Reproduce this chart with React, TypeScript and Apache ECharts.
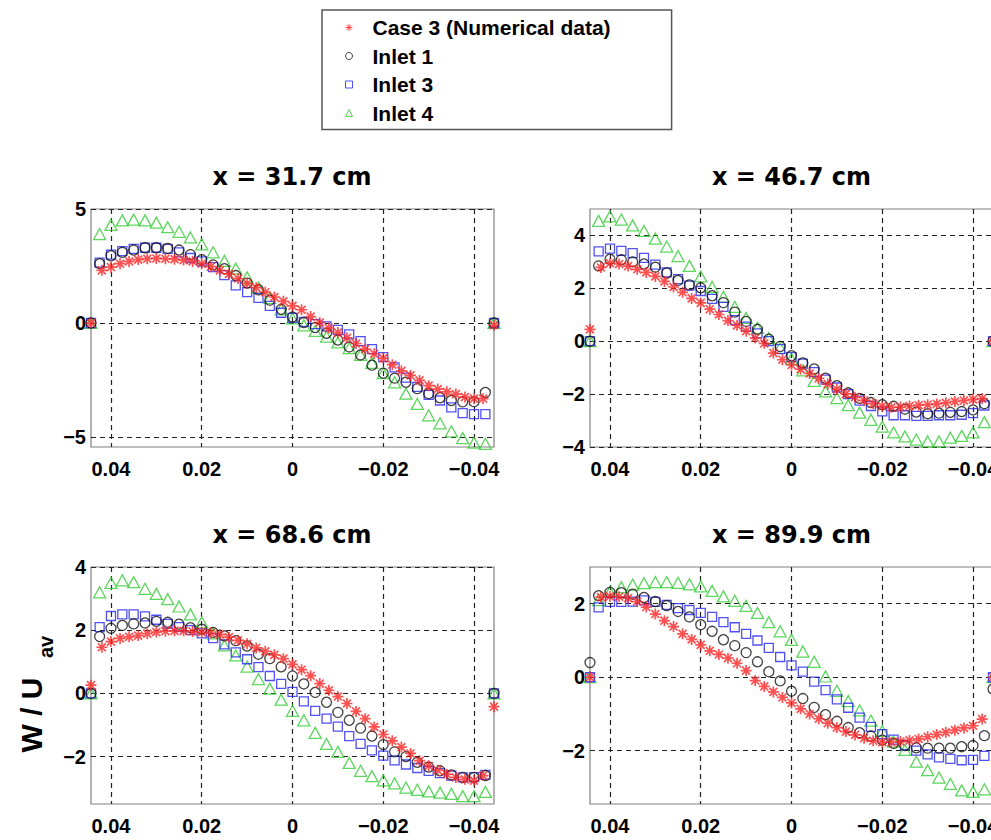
import React, { useEffect, useRef } from "react";
import * as echarts from "echarts";

// ---------- data ----------
const seriesNames = ["Case 3 (Numerical data)", "Inlet 1", "Inlet 3", "Inlet 4"];
const plotTitles = ["x = 31.7 cm", "x = 46.7 cm", "x = 68.6 cm", "x = 89.9 cm"];

// x positions (spanwise coordinate), boundary points included at both walls
const xExp = [0.0444, 0.0425, 0.04, 0.0375, 0.035, 0.0325, 0.03, 0.0275, 0.025, 0.0225, 0.02, 0.0175, 0.015, 0.0125, 0.01, 0.0075, 0.005, 0.0025, 0, -0.0025, -0.005, -0.0075, -0.01, -0.0125, -0.015, -0.0175, -0.02, -0.0225, -0.025, -0.0275, -0.03, -0.0325, -0.035, -0.0375, -0.04, -0.0425, -0.0444];
const xNum = [0.0444, 0.042, 0.04, 0.038, 0.036, 0.034, 0.032, 0.03, 0.028, 0.026, 0.024, 0.022, 0.02, 0.018, 0.016, 0.014, 0.012, 0.01, 0.008, 0.006, 0.004, 0.002, 0, -0.002, -0.004, -0.006, -0.008, -0.01, -0.012, -0.014, -0.016, -0.018, -0.02, -0.022, -0.024, -0.026, -0.028, -0.03, -0.032, -0.034, -0.036, -0.038, -0.04, -0.042, -0.0444];

// x = 31.7 cm
const p1Case3 = [0, 2.31, 2.45, 2.6, 2.7, 2.78, 2.82, 2.83, 2.82, 2.8, 2.76, 2.7, 2.6, 2.47, 2.31, 2.15, 1.95, 1.73, 1.55, 1.35, 1.14, 0.95, 0.75, 0.58, 0.28, 0.02, -0.22, -0.42, -0.65, -0.9, -1.15, -1.35, -1.55, -1.83, -2.1, -2.3, -2.52, -2.75, -2.9, -3.02, -3.12, -3.25, -3.32, -3.32, -0.1];
const p1Inlet1 = [0, 2.6, 2.95, 3.1, 3.2, 3.3, 3.3, 3.27, 3.2, 3.0, 2.78, 2.55, 2.38, 2.08, 1.75, 1.45, 1.0, 0.6, 0.26, 0.02, -0.2, -0.45, -0.75, -1.05, -1.4, -1.85, -2.2, -2.42, -2.6, -2.88, -3.1, -3.28, -3.4, -3.46, -3.45, -3.05, 0];
const p1Inlet3 = [0, 2.65, 3.0, 3.15, 3.25, 3.3, 3.3, 3.25, 3.1, 2.85, 2.7, 2.45, 2.1, 1.65, 1.35, 1.1, 0.75, 0.45, 0.22, 0.05, -0.05, -0.15, -0.3, -0.5, -0.8, -1.15, -1.5, -1.95, -2.4, -2.8, -3.15, -3.4, -3.7, -3.95, -4.0, -4.0, 0];
const p1Inlet4 = [0, 3.9, 4.3, 4.5, 4.53, 4.5, 4.4, 4.2, 4.0, 3.75, 3.45, 3.1, 2.72, 2.38, 2.0, 1.55, 1.1, 0.6, 0.2, -0.1, -0.35, -0.6, -0.85, -1.1, -1.4, -1.75, -2.2, -2.6, -3.1, -3.55, -4.05, -4.4, -4.75, -5.05, -5.25, -5.3, 0];

// x = 46.7 cm
const p2Case3 = [0.45, 2.79, 2.95, 2.92, 2.84, 2.72, 2.6, 2.45, 2.26, 2.05, 1.85, 1.62, 1.45, 1.21, 1.01, 0.78, 0.6, 0.38, 0.12, -0.08, -0.45, -0.7, -0.9, -1.06, -1.22, -1.4, -1.62, -1.82, -1.99, -2.12, -2.24, -2.36, -2.46, -2.5, -2.49, -2.45, -2.42, -2.4, -2.37, -2.33, -2.28, -2.24, -2.2, -2.17, 0];
const p2Inlet1 = [0, 2.85, 3.1, 3.08, 3.0, 2.92, 2.8, 2.58, 2.3, 2.13, 2.02, 1.72, 1.46, 1.1, 0.75, 0.45, 0.08, -0.2, -0.55, -0.82, -1.05, -1.4, -1.68, -1.95, -2.16, -2.32, -2.4, -2.46, -2.57, -2.68, -2.74, -2.72, -2.69, -2.66, -2.6, -2.36, 0];
const p2Inlet3 = [0, 3.4, 3.5, 3.42, 3.33, 3.15, 2.9, 2.6, 2.35, 2.1, 1.9, 1.6, 1.3, 0.8, 0.55, 0.3, 0.0, -0.3, -0.6, -0.85, -1.17, -1.45, -1.75, -2.0, -2.25, -2.45, -2.65, -2.8, -2.8, -2.82, -2.82, -2.8, -2.8, -2.78, -2.72, -2.43, 0];
const p2Inlet4 = [0, 4.55, 4.72, 4.6, 4.38, 4.17, 3.88, 3.58, 3.22, 2.85, 2.45, 2.05, 1.68, 1.3, 0.88, 0.5, 0.12, -0.25, -0.67, -1.1, -1.5, -1.9, -2.15, -2.42, -2.7, -2.97, -3.23, -3.45, -3.6, -3.72, -3.79, -3.79, -3.65, -3.58, -3.45, -3.06, 0];

// x = 68.6 cm
const p3Case3 = [0.26, 1.46, 1.64, 1.74, 1.79, 1.83, 1.89, 1.94, 1.97, 1.98, 1.98, 1.96, 1.94, 1.91, 1.86, 1.78, 1.68, 1.57, 1.44, 1.33, 1.22, 1.1, 0.92, 0.75, 0.56, 0.31, 0.1, -0.1, -0.32, -0.57, -0.8, -1.06, -1.3, -1.5, -1.7, -1.9, -2.13, -2.29, -2.43, -2.56, -2.66, -2.72, -2.76, -2.6, -0.42];
const p3Inlet1 = [0, 1.8, 2.06, 2.15, 2.2, 2.23, 2.28, 2.25, 2.19, 2.08, 2.03, 1.93, 1.82, 1.67, 1.5, 1.24, 1.1, 0.84, 0.55, 0.3, 0.03, -0.28, -0.6, -0.85, -1.1, -1.35, -1.62, -1.85, -2.0, -2.18, -2.33, -2.45, -2.58, -2.66, -2.66, -2.6, 0];
const p3Inlet3 = [0, 2.1, 2.45, 2.5, 2.5, 2.44, 2.33, 2.2, 2.1, 2.0, 1.9, 1.75, 1.55, 1.3, 1.08, 0.83, 0.55, 0.3, 0.05, -0.25, -0.55, -0.8, -1.05, -1.35, -1.6, -1.8, -1.97, -2.12, -2.25, -2.36, -2.45, -2.52, -2.6, -2.66, -2.65, -2.58, 0];
const p3Inlet4 = [0, 3.2, 3.5, 3.58, 3.52, 3.31, 3.15, 2.98, 2.75, 2.5, 2.25, 1.9, 1.52, 1.2, 0.85, 0.45, 0.15, -0.2, -0.55, -0.85, -1.25, -1.6, -1.85, -2.2, -2.45, -2.62, -2.75, -2.85, -2.98, -3.05, -3.1, -3.14, -3.18, -3.25, -3.25, -3.12, 0];

// x = 89.9 cm
const p4Case3 = [0, 2.18, 2.2, 2.19, 2.15, 2.06, 1.91, 1.72, 1.54, 1.38, 1.18, 1.03, 0.88, 0.72, 0.62, 0.52, 0.38, 0.18, -0.09, -0.25, -0.4, -0.55, -0.7, -0.86, -1.0, -1.13, -1.25, -1.37, -1.48, -1.57, -1.66, -1.73, -1.77, -1.77, -1.75, -1.72, -1.68, -1.62, -1.56, -1.5, -1.44, -1.38, -1.32, -1.14, 0];
const p4Inlet1 = [0.4, 2.22, 2.31, 2.3, 2.26, 2.17, 2.06, 1.95, 1.79, 1.64, 1.43, 1.25, 1.02, 0.86, 0.67, 0.42, 0.15, -0.1, -0.38, -0.58, -0.82, -1.02, -1.2, -1.37, -1.51, -1.6, -1.71, -1.8, -1.86, -1.92, -1.93, -1.93, -1.93, -1.89, -1.86, -1.59, -0.32];
const p4Inlet3 = [0, 1.9, 2.05, 2.05, 2.06, 2.09, 2.05, 1.97, 1.88, 1.83, 1.75, 1.64, 1.5, 1.36, 1.18, 1.0, 0.8, 0.55, 0.32, 0.15, -0.12, -0.35, -0.6, -0.83, -1.1, -1.35, -1.55, -1.7, -1.85, -2.0, -2.1, -2.18, -2.22, -2.26, -2.25, -2.14, 0];
const p4Inlet4 = [0, 2.1, 2.32, 2.45, 2.52, 2.56, 2.59, 2.59, 2.57, 2.53, 2.47, 2.35, 2.2, 2.08, 1.94, 1.75, 1.5, 1.25, 1.02, 0.7, 0.42, 0.02, -0.37, -0.65, -0.9, -1.18, -1.46, -1.75, -1.98, -2.3, -2.53, -2.73, -2.9, -3.08, -3.12, -3.05, 0];

// axes
const xRange = [-0.0444, 0.0444];
const xTickValues = [0.04, 0.02, 0, -0.02, -0.04];
const xTickLabels = ["0.04", "0.02", "0", "\u22120.02", "\u22120.04"];
const yRanges = [[-5.44, 5], [-4, 5], [-3.5, 4], [-3.45, 3]];
const yTickValues = [[5, 0, -5], [4, 2, 0, -2, -4], [4, 2, 0, -2], [2, 0, -2]];
const yTickLabels = [["5", "0", "\u22125"], ["4", "2", "0", "\u22122", "\u22124"], ["4", "2", "0", "\u22122"], ["2", "0", "\u22122"]];

const plotData = [
  [p1Case3, p1Inlet1, p1Inlet3, p1Inlet4],
  [p2Case3, p2Inlet1, p2Inlet3, p2Inlet4],
  [p3Case3, p3Inlet1, p3Inlet3, p3Inlet4],
  [p4Case3, p4Inlet1, p4Inlet3, p4Inlet4],
];

// ---------- layout / styles ----------
const grids = [
  { left: 91, top: 209, width: 403, height: 238 },
  { left: 590, top: 209, width: 403, height: 238 },
  { left: 91, top: 567, width: 403, height: 237 },
  { left: 590, top: 567, width: 403, height: 237 },
];
const titlePos = [
  { left: 292, top: 165 },
  { left: 791.5, top: 165 },
  { left: 292, top: 523 },
  { left: 791.5, top: 523 },
];

const ASTERISK = "path://M5 0L5 10M0 5L10 5M1.4 1.4L8.6 8.6M1.4 8.6L8.6 1.4";
const CLEAR = "rgba(0,0,0,0)";
const markerStyles = [
  { symbol: ASTERISK, symbolSize: 11, itemStyle: { color: CLEAR, borderColor: "#ff2626", borderWidth: 1.7 } },
  { symbol: "circle", symbolSize: 10, itemStyle: { color: CLEAR, borderColor: "#111111", borderWidth: 1.3 } },
  { symbol: "rect", symbolSize: 9, itemStyle: { color: CLEAR, borderColor: "#2424f0", borderWidth: 1.3 } },
  { symbol: "triangle", symbolSize: [12, 11], itemStyle: { color: CLEAR, borderColor: "#33cc33", borderWidth: 1.3 } },
];
const drawOrder = [3, 2, 1, 0];

const lookup = (vals: number[], labels: string[]) => (v: number) => {
  const i = vals.findIndex((t) => Math.abs(t - v) < 1e-9);
  return i >= 0 ? labels[i] : "";
};

const tickFont = { fontFamily: "Liberation Sans", fontWeight: "bold" as const, fontSize: 20, color: "#000" };
const splitLineStyle = { show: true, lineStyle: { type: [5, 4], color: "#222", width: 1.2 } };

export default function App() {
  const ref = useRef<HTMLDivElement>(null);
  useEffect(() => {
    if (!ref.current) return;
    const chart = echarts.init(ref.current, undefined, { renderer: "svg" });

    const xAxis = grids.map((_, i) => ({
      gridIndex: i,
      type: "value",
      min: xRange[0],
      max: xRange[1],
      inverse: true,
      axisLine: { show: false },
      axisTick: { show: false, customValues: xTickValues },
      axisLabel: { ...tickFont, margin: 12, customValues: xTickValues, formatter: lookup(xTickValues, xTickLabels) },
      splitLine: splitLineStyle,
    }));
    const yAxis = grids.map((_, i) => ({
      gridIndex: i,
      type: "value",
      min: yRanges[i][0],
      max: yRanges[i][1],
      axisLine: { show: false },
      axisTick: { show: false, customValues: yTickValues[i] },
      axisLabel: { ...tickFont, margin: 5, customValues: yTickValues[i], formatter: lookup(yTickValues[i], yTickLabels[i]) },
      splitLine: splitLineStyle,
    }));

    const series: any[] = [];
    plotData.forEach((sets, p) => {
      drawOrder.forEach((k) => {
        const xs = k === 0 ? xNum : xExp;
        series.push({
          type: "scatter",
          name: seriesNames[k],
          xAxisIndex: p,
          yAxisIndex: p,
          data: xs.map((x, j) => [x, sets[k][j]]),
          symbol: markerStyles[k].symbol,
          symbolSize: markerStyles[k].symbolSize,
          itemStyle: markerStyles[k].itemStyle,
          emphasis: { disabled: true },
          clip: false,
        });
      });
    });

    chart.setOption({
      animation: false,
      backgroundColor: "#fff",
      title: plotTitles.map((t, i) => ({
        text: t,
        left: titlePos[i].left,
        top: titlePos[i].top,
        textAlign: "center",
        padding: 0,
        textStyle: { fontFamily: "DejaVu Sans", fontWeight: "bold", fontSize: 24, color: "#000" },
      })),
      legend: {
        data: seriesNames,
        orient: "vertical",
        left: 322,
        top: 10,
        padding: [7, 61, 6, 23],
        itemWidth: 7,
        itemHeight: 7,
        itemGap: 7.5,
        borderColor: "#555",
        borderWidth: 1.5,
        selectedMode: false,
        itemStyle: { borderWidth: 1 },
        textStyle: { fontFamily: "Liberation Sans", fontWeight: "bold", fontSize: 21, lineHeight: 20, color: "#000", padding: [0, 0, 0, 15] },
      },
      grid: grids.map((g) => ({ ...g, show: true, borderColor: "#808080", borderWidth: 1.2, backgroundColor: CLEAR, outerBoundsMode: "none", containLabel: false })),
      xAxis,
      yAxis,
      series,
      graphic: [
        {
          type: "group",
          x: 31,
          y: 715,
          rotation: Math.PI / 2,
          children: [
            {
              type: "text",
              x: 0,
              y: 0,
              style: { text: "W / U", font: 'bold 30px "Liberation Sans"', fill: "#000", align: "center", verticalAlign: "middle", textAlign: "center", textVerticalAlign: "middle" },
            },
            {
              type: "text",
              x: 57,
              y: 15,
              style: { text: "av", font: 'bold 20px "Liberation Sans"', fill: "#000", align: "left", verticalAlign: "middle", textAlign: "left", textVerticalAlign: "middle" },
            },
          ],
        },
      ],
    });
    return () => chart.dispose();
  }, []);
  return <div ref={ref} style={{ position: "absolute", left: 0, top: 0, width: 991, height: 840 }} />;
}
